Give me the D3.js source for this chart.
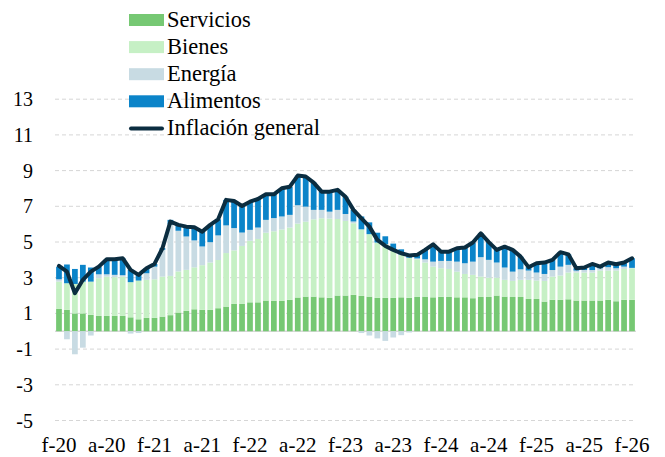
<!DOCTYPE html>
<html>
<head>
<meta charset="utf-8">
<script src="https://cdnjs.cloudflare.com/ajax/libs/d3/7.8.5/d3.min.js"></script>
<style>
  body { margin: 0; background: #ffffff; }
  svg text { font-family: "Liberation Serif", "Times New Roman", Times, serif; font-size: 20px; fill: #000; }
  svg .x-axis text { font-size: 21px; }
  svg .legend text { font-size: 22.5px; }
</style>
</head>
<body>
<div class="chart"></div>
<script>
// Months feb-2020 .. feb-2026 (one bar each)
var meses = d3.timeMonth.range(new Date(2020, 1, 1), new Date(2026, 2, 1)).map(d3.timeFormat("%Y-%m"));

// Tick labels, one every 6 months
var tickLabels = ["f-20", "a-20", "f-21", "a-21", "f-22", "a-22", "f-23", "a-23", "f-24", "a-24", "f-25", "a-25", "f-26"];
var yTicks = [-5, -3, -1, 1, 3, 5, 7, 9, 11, 13];

// Contributions (pp)
var servicios = [1.25, 1.2, 1.0, 1.0, 0.92, 0.86, 0.86, 0.86, 0.86, 0.78, 0.67, 0.75, 0.75, 0.82, 0.9,
  1.05, 1.14, 1.23, 1.2, 1.2, 1.29, 1.38, 1.53, 1.53, 1.62, 1.62, 1.72, 1.7, 1.7, 1.76,
  1.89, 1.94, 1.94, 1.9, 1.87, 2.0, 2.0,
  2.04, 1.98, 1.94, 1.87, 1.87, 1.87, 1.9, 1.87,
  1.92, 1.94, 1.9, 1.93, 1.92, 1.9, 1.9, 1.85, 1.92, 1.92, 2.0, 1.94, 1.92, 1.92,
  1.81, 1.81, 1.66, 1.76, 1.76, 1.79, 1.72, 1.72, 1.72, 1.72, 1.76, 1.68, 1.76, 1.76];
var bienes = [1.53, 1.49, 1.65, 1.78, 1.86, 2.11, 2.2, 2.17, 2.2, 1.97, 2.17, 2.13, 2.16, 2.24, 2.2,
  2.3, 2.3, 2.35, 2.5, 2.65, 2.7, 3.0, 3.0, 3.25, 3.45, 3.55, 3.8, 3.9, 4.0, 4.05,
  4.14, 4.2, 4.33, 4.43, 4.44, 4.29, 4.18,
  4.01, 3.73, 3.5, 3.1, 3.0, 2.65, 2.4, 2.25,
  2.11, 1.91, 1.72, 1.6, 1.57, 1.44, 1.31, 1.31, 1.14, 1.08, 1.0, 0.94, 0.9, 0.96,
  1.07, 1.03, 1.16, 1.3, 1.36, 1.5, 1.57, 1.57, 1.57, 1.68, 1.64, 1.72, 1.73, 1.77];
var energia = [0.13, -0.45, -1.29, -0.92, -0.24, 0.22, 0.13, 0.13, 0.08, -0.13, -0.1, 0.37, 0.71, 1.5, 2.89,
  2.28, 1.87, 1.51, 1.05, 1.14, 1.38, 1.55, 1.25, 0.75, 0.61, 0.64, 0.72, 0.74, 0.73, 0.71,
  1.03, 0.84, 0.53, 0.47, 0.39, 0.51, 0.39,
  0.1, -0.1, -0.24, -0.4, -0.54, -0.35, -0.22, -0.07,
  0.05, 0.18, 0.28, 0.41, 0.45, 0.56, 0.6, 0.74, 1.09, 1.0, 0.85, 0.69, 0.52, 0.59,
  0.52, 0.45, 0.39, 0.37, 0.5, 0.43, 0.11, 0.14, 0.14, 0.13, 0.19, 0.13, 0.13, 0.02];
var alimentos = [0.71, 1.05, 0.84, 0.94, 0.79, 0.43, 0.84, 0.87, 0.95, 0.69, 0.4, 0.28, 0.15, 0.1, 0.25,
  0.33, 0.55, 0.74, 0.83, 0.97, 0.9, 1.43, 1.52, 1.49, 1.58, 1.6, 1.43, 1.33, 1.58, 1.58,
  1.66, 1.69, 1.53, 1.02, 1.12, 1.12, 0.97,
  0.65, 0.72, 0.66, 0.55, 0.45, 0.39, 0.29, 0.2,
  0.2, 0.53, 0.97, 0.52, 0.52, 0.75, 0.88, 1.07, 1.34, 0.99, 0.71, 1.17, 1.22, 0.71,
  0.19, 0.52, 0.64, 0.57, 0.81, 0.59, 0.13, 0.14, 0.34, 0.09, 0.26, 0.22, 0.23, 0.54];
var inflacion = [3.66, 3.34, 2.13, 2.88, 3.34, 3.62, 4.03, 4.03, 4.09, 3.44, 3.16, 3.53, 3.77, 4.65, 6.14,
  5.96, 5.86, 5.83, 5.58, 5.96, 6.27, 7.36, 7.3, 7.02, 7.26, 7.41, 7.67, 7.67, 8.01, 8.1,
  8.72, 8.67, 8.33, 7.82, 7.82, 7.92, 7.54,
  6.8, 6.33, 5.86, 5.12, 4.78, 4.56, 4.37, 4.25,
  4.28, 4.56, 4.87, 4.46, 4.46, 4.65, 4.69, 4.97, 5.49, 4.99, 4.56, 4.74, 4.56, 4.18,
  3.59, 3.81, 3.85, 4.0, 4.43, 4.31, 3.53, 3.57, 3.77, 3.62, 3.85, 3.75, 3.85, 4.09];

var keys = ["Servicios", "Bienes", "Energía", "Alimentos"];
var colors = {"Servicios": "#76c873", "Bienes": "#c6f0c5", "Energía": "#c8dbe3", "Alimentos": "#0b84c9"};
var lineColor = "#0b2d40";

// Build rows for the stack
var rows = meses.map(function(m, i) {
  return {mes: m, "Servicios": servicios[i], "Bienes": bienes[i], "Energía": energia[i], "Alimentos": alimentos[i]};
});

var svgWidth = 665;
var svgHeight = 457;

var svg = d3.select(".chart")
  .append("svg")
  .attr("width", svgWidth)
  .attr("height", svgHeight);

// Scales
var x = d3.scaleBand().domain(meses).range([55, 636]).paddingInner(0.28).paddingOuter(0.14);
var y = d3.scaleLinear().domain([-5, 13]).range([420.5, 99.2]);

// Gridlines
svg.append("g").selectAll("line")
  .data(yTicks)
  .enter().append("line")
  .attr("x1", 55).attr("x2", 636)
  .attr("y1", function(d) { return y(d); })
  .attr("y2", function(d) { return y(d); })
  .attr("stroke", "#d6d6d6")
  .attr("stroke-dasharray", "4,3");

svg.append("line")
  .attr("x1", 55).attr("x2", 636)
  .attr("y1", y(0)).attr("y2", y(0))
  .attr("stroke", "#d9d9d9")
  .attr("stroke-width", 1.5);

// Stacked bars (negatives go below zero)
var series = d3.stack().keys(keys).offset(d3.stackOffsetDiverging)(rows);

svg.append("g").selectAll("g")
  .data(series)
  .enter().append("g")
  .attr("fill", function(d) { return colors[d.key]; })
  .selectAll("rect")
  .data(function(d) { return d; })
  .enter().append("rect")
  .attr("x", function(d) { return x(d.data.mes); })
  .attr("width", x.bandwidth())
  .attr("y", function(d) { return y(Math.max(d[0], d[1])); })
  .attr("height", function(d) { return Math.abs(y(d[0]) - y(d[1])); });

// Headline inflation line
var line = d3.line()
  .x(function(d, i) { return x(meses[i]) + x.bandwidth() / 2; })
  .y(function(d) { return y(d); });

svg.append("path")
  .datum(inflacion)
  .attr("d", line)
  .attr("fill", "none")
  .attr("stroke", lineColor)
  .attr("stroke-width", 4)
  .attr("stroke-linejoin", "round")
  .attr("stroke-linecap", "round");

// Y axis labels
svg.append("g").selectAll("text")
  .data(yTicks)
  .enter().append("text")
  .attr("x", 33)
  .attr("y", function(d) { return y(d) + 7; })
  .attr("text-anchor", "end")
  .text(function(d) { return d; });

// X axis labels
var bottomAxis = d3.axisBottom(x)
  .tickValues(meses.filter(function(d, i) { return i % 6 === 0; }))
  .tickFormat(function(d, i) { return tickLabels[i]; })
  .tickSize(0)
  .tickPadding(0);

var xAxis = svg.append("g")
  .attr("class", "x-axis")
  .attr("transform", "translate(0,437)")
  .call(bottomAxis)
  .attr("font-family", null)
  .attr("font-size", null);
xAxis.select(".domain").remove();
xAxis.selectAll("text")
  .attr("dy", "0.71em");

// Legend
var legend = svg.append("g").attr("class", "legend");
keys.forEach(function(k, i) {
  var cy = 20 + i * 27.1;
  legend.append("rect")
    .attr("x", 129).attr("y", cy - 6)
    .attr("width", 35).attr("height", 12)
    .attr("fill", colors[k]);
  legend.append("text")
    .attr("x", 167).attr("y", cy + 7)
    .text(k);
});
legend.append("line")
  .attr("x1", 131).attr("x2", 162)
  .attr("y1", 128.4).attr("y2", 128.4)
  .attr("stroke", lineColor)
  .attr("stroke-width", 4)
  .attr("stroke-linecap", "round");
legend.append("text")
  .attr("x", 167).attr("y", 128.4 + 7)
  .text("Inflación general");
</script>
</body>
</html>
